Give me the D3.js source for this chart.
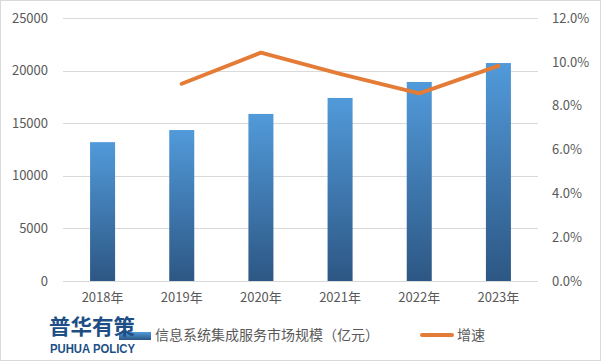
<!DOCTYPE html>
<html><head><meta charset="utf-8">
<script src="https://cdn.jsdelivr.net/npm/d3@7"></script>
<style>
html,body{margin:0;padding:0;background:#fff;}
svg{display:block;}
</style></head>
<body>
<svg id="chart" width="601" height="361"></svg>
<script>
const categories = ["2018年","2019年","2020年","2021年","2022年","2023年"];
const marketSize = [13200, 14350, 15880, 17400, 18920, 20720];
const growth = [null, 0.090, 0.1042, 0.0945, 0.0856, 0.0982];
const leftTicks = [0, 5000, 10000, 15000, 20000, 25000];
const rightTicks = [0, 0.02, 0.04, 0.06, 0.08, 0.10, 0.12];
const seriesNames = ["信息系统集成服务市场规模（亿元）", "增速"];

const svg = d3.select("#chart");
const W = 601, H = 361;
const x0 = 63, x1 = 538, yTop = 18, yBot = 281;
const font = "'Noto Sans CJK SC', 'DejaVu Sans', sans-serif";

svg.append("rect").attr("x",0.5).attr("y",0.5).attr("width",W-1).attr("height",H-1)
  .attr("fill","#fff").attr("stroke","#d9d9d9");

const x = d3.scaleBand().domain(categories).range([x0, x1]).paddingInner(0.684).paddingOuter(0.342);
const y = d3.scaleLinear().domain([0, 25000]).range([yBot, yTop]);
const y2 = d3.scaleLinear().domain([0, 0.12]).range([yBot, yTop]);

const defs = svg.append("defs");
const grad = defs.append("linearGradient").attr("id","barGrad").attr("x1",0).attr("y1",0).attr("x2",0).attr("y2",1);
grad.append("stop").attr("offset","0%").attr("stop-color","#519ada");
grad.append("stop").attr("offset","100%").attr("stop-color","#2d5784");
const lgrad = defs.append("linearGradient").attr("id","legGrad").attr("x1",0).attr("y1",0).attr("x2",0).attr("y2",1);
lgrad.append("stop").attr("offset","0%").attr("stop-color","#519ada");
lgrad.append("stop").attr("offset","100%").attr("stop-color","#2d5784");

// gridlines
svg.append("g").selectAll("line").data(leftTicks.slice(1)).join("line")
  .attr("x1", x0).attr("x2", x1)
  .attr("y1", d => Math.round(y(d)) + 0.5).attr("y2", d => Math.round(y(d)) + 0.5)
  .attr("stroke", "#d9d9d9").attr("stroke-width", 1);

// left axis
const la = svg.append("g").attr("transform", `translate(${x0},0)`)
  .call(d3.axisLeft(y).tickValues(leftTicks).tickFormat(d3.format("d")).tickSize(0).tickPadding(15));
la.select(".domain").remove();
la.selectAll("text").attr("font-family", font).attr("font-size", 13).attr("fill", "#595959");

// right axis
const ra = svg.append("g").attr("transform", `translate(${x1},0)`)
  .call(d3.axisRight(y2).tickValues(rightTicks).tickFormat(d3.format(".1%")).tickSize(0).tickPadding(14));
ra.select(".domain").remove();
ra.selectAll("text").attr("font-family", font).attr("font-size", 13).attr("fill", "#595959");

// bars
svg.append("g").selectAll("rect").data(categories).join("rect")
  .attr("x", d => x(d)).attr("width", x.bandwidth())
  .attr("y", (d,i) => y(marketSize[i])).attr("height", (d,i) => yBot - y(marketSize[i]))
  .attr("fill", "url(#barGrad)");

// bottom axis
const ba = svg.append("g").attr("transform", `translate(0,${yBot})`)
  .call(d3.axisBottom(x).tickSize(0).tickPadding(12));
ba.select(".domain").attr("stroke", "#d9d9d9").attr("d", `M${x0},0.5H${x1}`);
ba.selectAll("text").attr("font-family", font).attr("font-size", 13).attr("fill", "#595959");

// line
const pts = categories.map((c,i) => ({c, v: growth[i]}));
const line = d3.line().defined(d => d.v != null)
  .x(d => x(d.c) + x.bandwidth()/2).y(d => y2(d.v));
svg.append("path").datum(pts).attr("d", line)
  .attr("fill", "none").attr("stroke", "#e47c37").attr("stroke-width", 4)
  .attr("stroke-linejoin", "round").attr("stroke-linecap", "round");

// legend
const lg = svg.append("g");
lg.append("rect").attr("x", 119).attr("y", 332).attr("width", 32).attr("height", 8).attr("fill", "url(#legGrad)");
lg.append("text").attr("x", 155).attr("y", 340).text(seriesNames[0])
  .attr("font-family", font).attr("font-size", 14).attr("fill", "#595959");
lg.append("line").attr("x1", 422).attr("x2", 452).attr("y1", 335).attr("y2", 335)
  .attr("stroke", "#e47c37").attr("stroke-width", 4).attr("stroke-linecap", "round");
lg.append("text").attr("x", 457).attr("y", 340).text(seriesNames[1])
  .attr("font-family", font).attr("font-size", 14).attr("fill", "#595959");

// watermark logo
const logo = svg.append("g");
logo.append("text").attr("x", 49).attr("y", 334).text("普华有策")
  .attr("font-family", font).attr("font-weight", "bold").attr("font-size", 21)
  .attr("fill", "#1d4f86").attr("textLength", 86).attr("lengthAdjust", "spacingAndGlyphs");
logo.append("text").attr("x", 50).attr("y", 353).text("PUHUA POLICY")
  .attr("font-family", "'Liberation Sans', 'DejaVu Sans', sans-serif").attr("font-weight", "bold").attr("font-size", 12.5)
  .attr("fill", "#1d4f86").attr("textLength", 85).attr("lengthAdjust", "spacingAndGlyphs");
</script>
</body></html>
